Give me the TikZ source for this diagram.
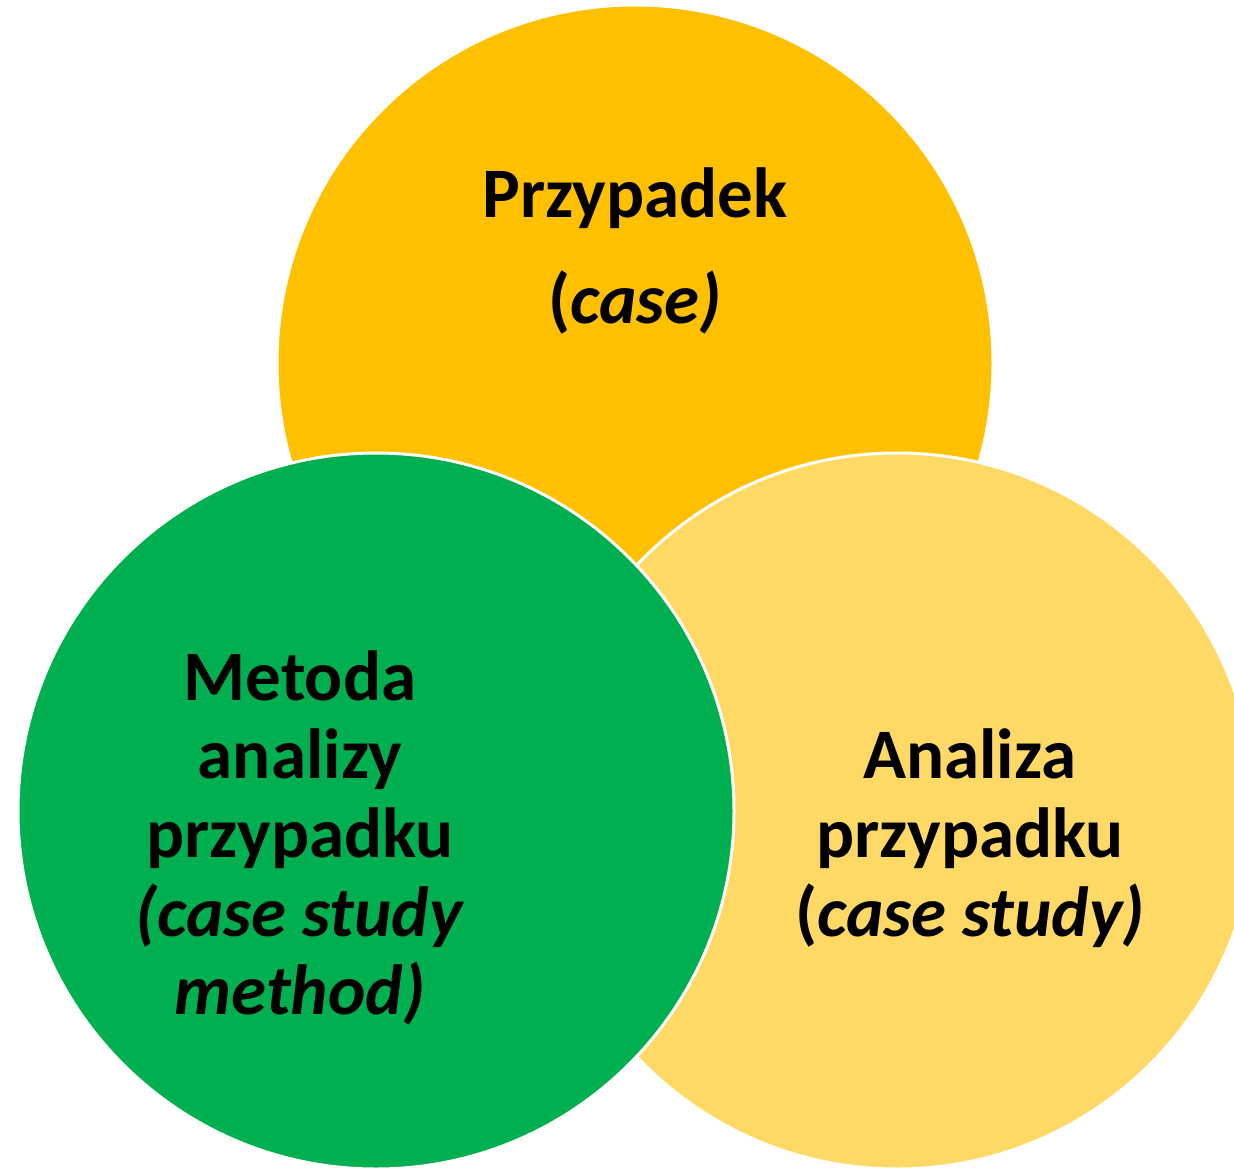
\documentclass[tikz,border=0pt]{standalone}
\usepackage{fontspec}
\setmainfont{Carlito}
\definecolor{orangeC}{HTML}{FFC000}
\definecolor{yellowC}{HTML}{FFD966}
\definecolor{greenC}{HTML}{00B050}
\begin{document}
\begin{tikzpicture}[x=1pt,y=-1pt,
  disc/.style={draw=white,line width=3pt},
  lbl/.style={anchor=base,inner sep=0pt,font=\fontsize{71}{79}\selectfont\bfseries}]
\useasboundingbox (0,0) rectangle (1234,1169);
\clip (0,0) rectangle (1234,1169);
\fill[orangeC,disc] (635,363) circle (358);
\fill[yellowC,disc] (897,811) circle (358);
\fill[greenC,disc] (376,811) circle (358);
\node[lbl] (p1) at (635,218) {Przypadek};
\node[lbl] (p2) at (635,323) {(\textit{case)}};
\node[lbl] (m1) at (300,700) {Metoda};
\node[lbl] (m2) at (300,778) {analizy};
\node[lbl] (m3) at (300,857) {przypadku};
\node[lbl] (m4) at (300,936) {\textit{(case study}};
\node[lbl] (m5) at (300,1014) {\textit{method)}};
\node[lbl] (a1) at (970,778) {Analiza};
\node[lbl] (a2) at (970,857) {przypadku};
\node[lbl] (a3) at (970,936) {(\textit{case study)}};
\end{tikzpicture}
\end{document}
